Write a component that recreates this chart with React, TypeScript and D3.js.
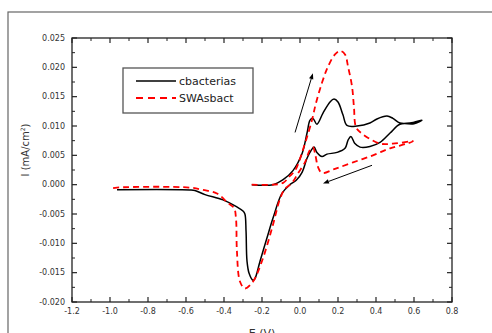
import React from "react";
import * as d3 from "d3";

// cbacterias (solid black) in scan order
const blackE = [-0.254, -0.142, -0.089, -0.037, 0.011, 0.037, 0.053, 0.068, 0.089, 0.121, 0.158, 0.179, 0.2, 0.226, 0.247, 0.3, 0.368, 0.405, 0.458, 0.489, 0.526, 0.579, 0.642, 0.6, 0.526, 0.474, 0.421, 0.368, 0.316, 0.289, 0.268, 0.253, 0.237, 0.195, 0.142, 0.116, 0.089, 0.074, 0.058, 0.037, 0.011, -0.021, -0.053, -0.095, -0.142, -0.174, -0.21, -0.237, -0.247, -0.268, -0.279, -0.284, -0.29, -0.3, -0.332, -0.405, -0.5, -0.553, -0.58, -0.963];
const blackI = [0, 0, 0.00086, 0.0024, 0.0053, 0.0088, 0.011, 0.0113, 0.0103, 0.0122, 0.0141, 0.0146, 0.0141, 0.0119, 0.0101, 0.01, 0.0105, 0.0112, 0.0117, 0.0113, 0.0105, 0.0105, 0.011, 0.0104, 0.0103, 0.0088, 0.0072, 0.0065, 0.0064, 0.007, 0.0082, 0.0076, 0.0062, 0.0055, 0.0052, 0.0048, 0.0055, 0.0064, 0.0058, 0.0045, 0.0021, 0.0007, 0, -0.0015, -0.0057, -0.0091, -0.013, -0.016, -0.0163, -0.0151, -0.013, -0.0079, -0.005, -0.0045, -0.0038, -0.0026, -0.0017, -0.001, -0.0009, -0.00086];

// SWAsbact (red dashed) in scan order
const redE = [-0.254, -0.142, -0.089, -0.053, -0.026, 0.026, 0.063, 0.084, 0.116, 0.147, 0.184, 0.211, 0.237, 0.253, 0.274, 0.284, 0.295, 0.326, 0.421, 0.489, 0.595, 0.563, 0.474, 0.384, 0.279, 0.184, 0.116, 0.095, 0.08, 0.068, 0.05, 0.035, 0.026, -0.011, -0.042, -0.079, -0.105, -0.147, -0.2, -0.247, -0.29, -0.316, -0.332, -0.337, -0.347, -0.38, -0.437, -0.51, -0.58, -0.963, -1.0];
const redI = [0, 0, 0.0003, 0.0015, 0.0024, 0.007, 0.011, 0.0139, 0.0174, 0.0201, 0.0222, 0.0228, 0.0222, 0.0201, 0.0167, 0.0132, 0.0098, 0.0087, 0.007, 0.007, 0.0074, 0.007, 0.0062, 0.005, 0.0038, 0.0027, 0.002, 0.003, 0.0052, 0.0064, 0.0058, 0.0045, 0.0038, 0.0019, 0.0003, -0.0007, -0.0024, -0.0074, -0.013, -0.0165, -0.0177, -0.0165, -0.0113, -0.0057, -0.004, -0.0031, -0.0015, -0.0009, -0.0005, -0.0005, -0.0007];

const xTicks = [-1.2, -1.0, -0.8, -0.6, -0.4, -0.2, 0.0, 0.2, 0.4, 0.6, 0.8];
const yTicks = [-0.02, -0.015, -0.01, -0.005, 0, 0.005, 0.01, 0.015, 0.02, 0.025];
const seriesNames = ["cbacterias", "SWAsbact"];
// annotation arrows [E0, I0, E1, I1] (head at E1, I1)
const arrows = [
  [-0.026, 0.0089, 0.068, 0.019],
  [0.379, 0.0033, 0.121, 0.0002],
];

const W = 492, H = 333;
const L = 72, R = 452, T = 38, B = 302;

export default function App() {
  const x = d3.scaleLinear().domain([-1.2, 0.8]).range([L, R]);
  const y = d3.scaleLinear().domain([-0.02, 0.025]).range([B, T]);
  const line = d3
    .line<number>()
    .x((_, i) => 0)
    .curve(d3.curveCatmullRom.alpha(0.5));
  const mk = (E: number[], I: number[]) =>
    d3
      .line<number>()
      .x((d) => x(E[d]))
      .y((d) => y(I[d]))
      .curve(d3.curveCatmullRom.alpha(0.5))(E.map((_, i) => i)) as string;
  void line;

  const xMinor = d3.range(-1.1, 0.8, 0.2);
  const yMinor = d3.range(-0.0175, 0.025, 0.005);
  const axisColor = "#222";
  const font = "'DejaVu Sans', Verdana, sans-serif";

  return (
    <svg
      width={W}
      height={H}
      style={{ position: "absolute", left: 0, top: 0, background: "#fff" }}
      fontFamily={font}
    >
      <rect x={8} y={12} width={600} height={400} fill="#fff" stroke="#666" strokeWidth={1.2} />
      {/* frame */}
      <rect x={L} y={T} width={R - L} height={B - T} fill="none" stroke={axisColor} strokeWidth={1.3} />
      {/* x ticks */}
      {xTicks.map((t) => (
        <g key={"xt" + t}>
          <line x1={x(t)} x2={x(t)} y1={B} y2={B - 5} stroke={axisColor} strokeWidth={1.2} />
          <line x1={x(t)} x2={x(t)} y1={T} y2={T + 5} stroke={axisColor} strokeWidth={1.2} />
          <text x={x(t)} y={B + 12} fontSize={8} textAnchor="middle" fill="#333">
            {t.toFixed(1)}
          </text>
        </g>
      ))}
      {xMinor.map((t) => (
        <g key={"xm" + t}>
          <line x1={x(t)} x2={x(t)} y1={B} y2={B - 3} stroke={axisColor} strokeWidth={1} />
          <line x1={x(t)} x2={x(t)} y1={T} y2={T + 3} stroke={axisColor} strokeWidth={1} />
        </g>
      ))}
      {yTicks.map((t) => (
        <g key={"yt" + t}>
          <line x1={L} x2={L + 5} y1={y(t)} y2={y(t)} stroke={axisColor} strokeWidth={1.2} />
          <line x1={R} x2={R - 5} y1={y(t)} y2={y(t)} stroke={axisColor} strokeWidth={1.2} />
          <text x={L - 7} y={y(t)} dy="0.35em" fontSize={8} textAnchor="end" fill="#333">
            {t.toFixed(3)}
          </text>
        </g>
      ))}
      {yMinor.map((t) => (
        <g key={"ym" + t}>
          <line x1={L} x2={L + 3} y1={y(t)} y2={y(t)} stroke={axisColor} strokeWidth={1} />
          <line x1={R} x2={R - 3} y1={y(t)} y2={y(t)} stroke={axisColor} strokeWidth={1} />
        </g>
      ))}
      {/* axis titles */}
      <text x={262} y={337} fontSize={11} textAnchor="middle" fill="#333">
        E (V)
      </text>
      <text
        transform={`translate(29,${150}) rotate(-90)`}
        fontSize={10}
        textAnchor="middle"
        fill="#333"
      >
        I (mA/cm<tspan dy={-4} fontSize={6}>2</tspan>
        <tspan dy={4}>)</tspan>
      </text>
      {/* curves */}
      <path d={mk(blackE, blackI)} fill="none" stroke="#000" strokeWidth={1.5} strokeLinejoin="round" />
      <path d={mk(redE, redI)} fill="none" stroke="#ff0000" strokeWidth={1.8} strokeDasharray="6,4" />
      {/* arrows */}
      {arrows.map((a, i) => {
        const x0 = x(a[0]), y0 = y(a[1]), x1 = x(a[2]), y1 = y(a[3]);
        const ang = Math.atan2(y1 - y0, x1 - x0);
        const hl = 6, hw = 2.2;
        const bx = x1 - hl * Math.cos(ang), by = y1 - hl * Math.sin(ang);
        const px = -Math.sin(ang) * hw, py = Math.cos(ang) * hw;
        return (
          <g key={"ar" + i}>
            <line x1={x0} y1={y0} x2={bx} y2={by} stroke="#000" strokeWidth={1} />
            <path d={`M${x1},${y1}L${bx + px},${by + py}L${bx - px},${by - py}Z`} fill="#000" />
          </g>
        );
      })}
      {/* legend */}
      <rect x={123} y={68} width={130} height={45} fill="#fff" stroke="#555" strokeWidth={1.3} />
      <line x1={136} x2={176} y1={81} y2={81} stroke="#000" strokeWidth={1.5} />
      <line x1={136} x2={176} y1={98} y2={98} stroke="#ff0000" strokeWidth={1.8} strokeDasharray="7,5" />
      <text x={179} y={85} fontSize={11} fill="#222">{seriesNames[0]}</text>
      <text x={179} y={102} fontSize={11} fill="#222">{seriesNames[1]}</text>
    </svg>
  );
}
